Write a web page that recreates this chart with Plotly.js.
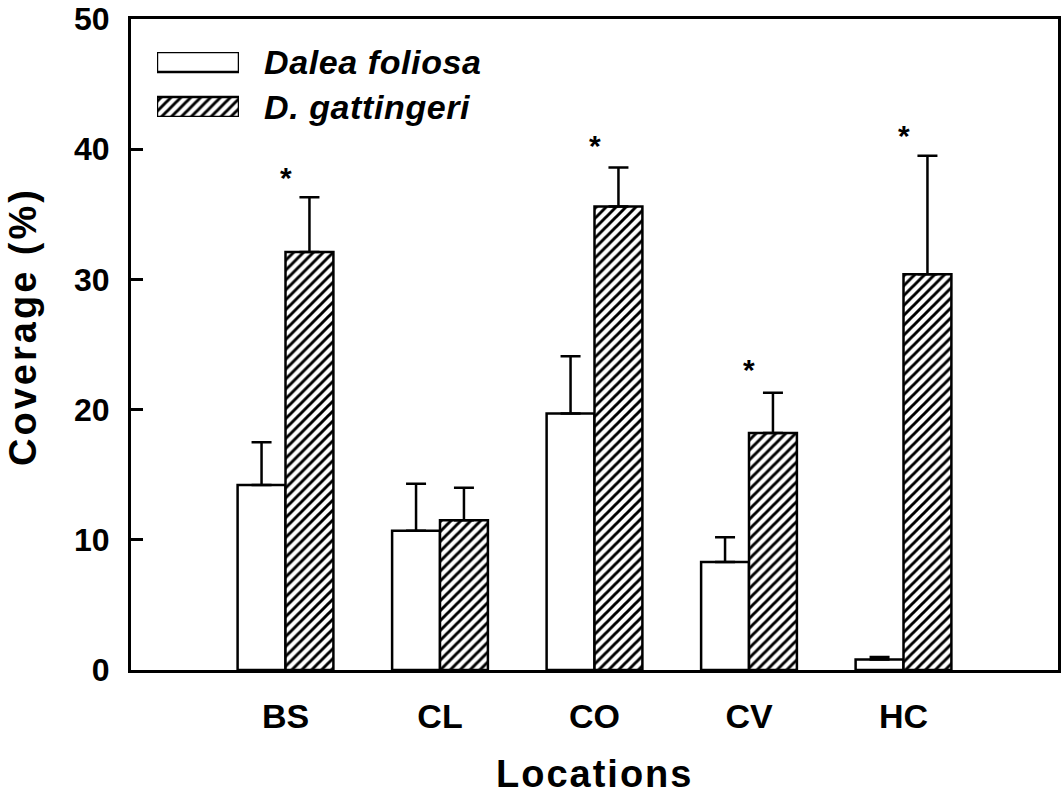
<!DOCTYPE html>
<html>
<head>
<meta charset="utf-8">
<script src="https://cdn.plot.ly/plotly-3.0.1.min.js"></script>
<style>
  html, body { margin: 0; padding: 0; background: #fff; }
  #chart { width: 1063px; height: 796px; }
</style>
</head>
<body>
<div id="chart"></div>
<script>
// ---- data ----
const locations = ['BS', 'CL', 'CO', 'CV', 'HC'];
const daleaFoliosa = [14.2, 10.7, 19.7, 8.3, 0.8];
const daleaFoliosaSE = [3.3, 3.6, 4.4, 1.9, 0.2];
const daleaGattingeri = [32.1, 11.5, 35.6, 18.2, 30.4];
const daleaGattingeriSE = [4.2, 2.5, 3.0, 3.1, 9.1];
const significanceY = [38.4, null, 40.8, 23.6, 41.6];
const seriesNames = ['Dalea foliosa', 'D. gattingeri'];
const yTickValues = [0, 10, 20, 30, 40, 50];
const xTitle = 'Locations';
const yTitle = 'Coverage (%)';

// ---- styling ----
const FONT = 'Liberation Sans, Arial, sans-serif';
const noLower = arr => arr.map(() => 0);
const spaced = (txt, px) => '<span style="letter-spacing:' + px + 'px">' + txt + '</span>';

const hatch = { shape: '/', bgcolor: '#ffffff', fgcolor: '#000000', size: 7, solidity: 0.42 };

const traces = [
  {
    type: 'bar', name: seriesNames[0], x: locations, y: daleaFoliosa,
    width: 0.31, offset: -0.31,
    marker: { color: '#ffffff', line: { color: '#000000', width: 2.5 } },
    error_y: { type: 'data', array: daleaFoliosaSE, arrayminus: noLower(daleaFoliosaSE), symmetric: false,
               color: '#000000', thickness: 2.5, width: 10 },
    showlegend: false, hoverinfo: 'skip'
  },
  {
    type: 'bar', name: seriesNames[1], x: locations, y: daleaGattingeri,
    width: 0.31, offset: 0,
    marker: { color: '#ffffff', pattern: hatch, line: { color: '#000000', width: 2.5 } },
    error_y: { type: 'data', array: daleaGattingeriSE, arrayminus: noLower(daleaGattingeriSE), symmetric: false,
               color: '#000000', thickness: 2.5, width: 10 },
    showlegend: false, hoverinfo: 'skip'
  },
  // legend swatches drawn on a small inset subplot
  {
    type: 'bar', orientation: 'h', x: [1], y: [seriesNames[0]], xaxis: 'x2', yaxis: 'y2',
    width: 0.444, cliponaxis: false,
    marker: { color: '#ffffff', line: { color: '#000000', width: 2.5 } },
    showlegend: false, hoverinfo: 'skip'
  },
  {
    type: 'bar', orientation: 'h', x: [1], y: [seriesNames[1]], xaxis: 'x2', yaxis: 'y2',
    width: 0.444, cliponaxis: false,
    marker: { color: '#ffffff', pattern: hatch, line: { color: '#000000', width: 2.5 } },
    showlegend: false, hoverinfo: 'skip'
  }
];

const annotations = [];
// significance stars
locations.forEach((loc, i) => {
  if (significanceY[i] !== null) {
    annotations.push({
      x: loc, y: significanceY[i], xref: 'x', yref: 'y', text: '*', showarrow: false,
      xanchor: 'center', yanchor: 'middle', yshift: -7,
      font: { family: FONT, size: 30, weight: 'bold', color: '#000' }
    });
  }
});
// legend labels
const legendLabelY = [0.934, 0.8648];
seriesNames.forEach((nm, i) => {
  annotations.push({
    x: 0.1413, y: legendLabelY[i], xref: 'paper', yref: 'paper', text: spaced(nm, 0.6), showarrow: false,
    xanchor: 'left', yanchor: 'middle',
    font: { family: FONT, size: 34, weight: 'bold', style: 'italic', color: '#000' }
  });
});
// axis titles
annotations.push({
  x: 0.5, y: -0.16, xref: 'paper', yref: 'paper', text: spaced(xTitle, 2), showarrow: false,
  xanchor: 'center', yanchor: 'middle',
  font: { family: FONT, size: 38, weight: 'bold', color: '#000' }
});
annotations.push({
  x: -0.1165, y: 0.527, xref: 'paper', yref: 'paper', text: spaced(yTitle, 3), showarrow: false,
  textangle: -90, xanchor: 'center', yanchor: 'middle',
  font: { family: FONT, size: 38, weight: 'bold', color: '#000' }
});

const layout = {
  width: 1063, height: 796,
  margin: { l: 131, r: 5, t: 19, b: 126 },
  paper_bgcolor: '#ffffff', plot_bgcolor: '#ffffff',
  showlegend: false,
  xaxis: {
    type: 'category', range: [-1, 5], ticks: '', showgrid: false, zeroline: false,
    showline: true, linecolor: '#000', linewidth: 3, mirror: true,
    tickfont: { family: FONT, size: 34, weight: 'bold', color: '#000' },
    ticklabelstandoff: 14, fixedrange: true
  },
  yaxis: {
    range: [0, 50], tickvals: yTickValues, ticks: 'inside', ticklen: 12, tickwidth: 3, tickcolor: '#000',
    showgrid: false, zeroline: false, showline: true, linecolor: '#000', linewidth: 3, mirror: true,
    tickfont: { family: FONT, size: 32, weight: 'bold', color: '#000' },
    ticklabelstandoff: 12, fixedrange: true
  },
  xaxis2: {
    domain: [0.028, 0.1165], range: [0, 1], anchor: 'y2', visible: false, fixedrange: true
  },
  yaxis2: {
    domain: [0.8495, 0.9493], range: [1.2222, -0.2222], type: 'category', anchor: 'x2',
    visible: false, fixedrange: true
  },
  annotations: annotations
};

Plotly.newPlot('chart', traces, layout, { displayModeBar: false, staticPlot: true });
</script>
</body>
</html>
